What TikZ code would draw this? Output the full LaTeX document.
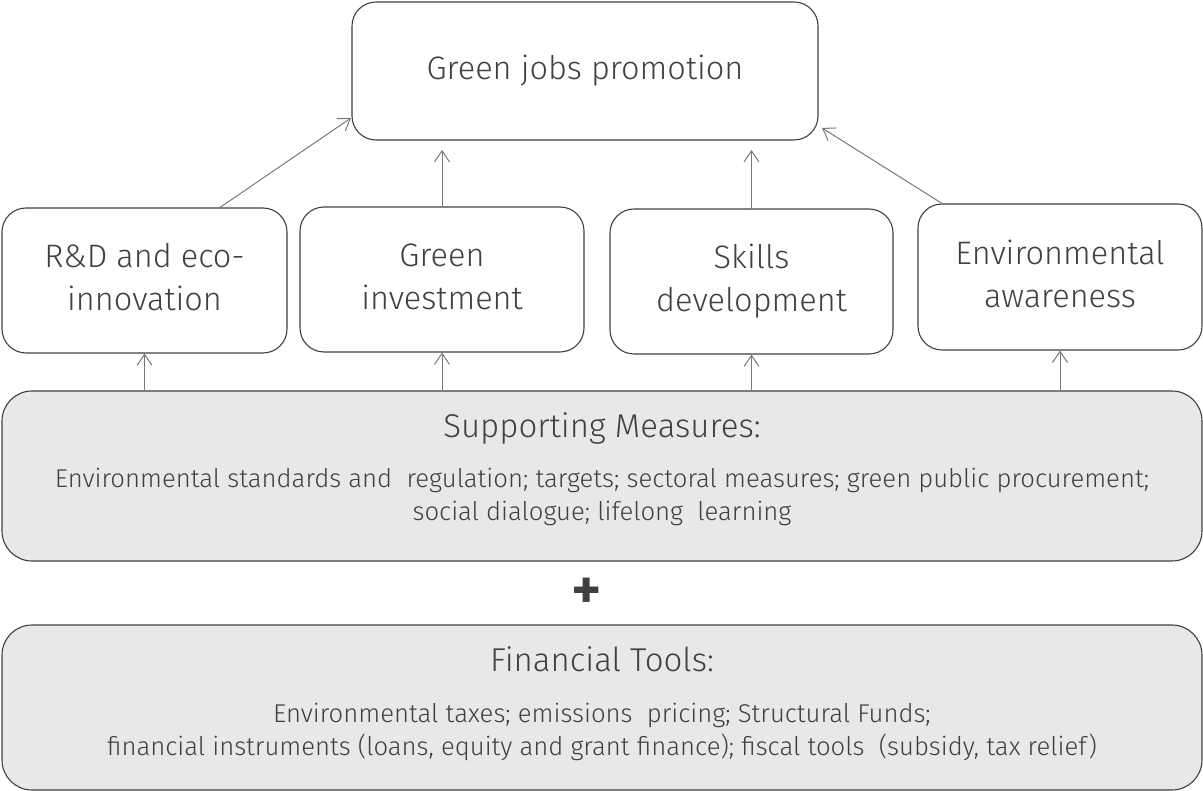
\documentclass[tikz,border=0pt]{standalone}
\usepackage{fontspec}
\setmainfont{Fira Sans}[UprightFont=* Light]
\usetikzlibrary{arrows.meta}
\definecolor{edge}{rgb}{0.25,0.25,0.25}
\definecolor{arrowgray}{rgb}{0.47,0.47,0.47}
\definecolor{panel}{rgb}{0.91,0.91,0.91}
\tikzset{
  box/.style={draw=edge,text=edge,line width=1.1pt,rounded corners=24pt,align=center,
    inner sep=0pt,font=\fontsize{32.5}{43}\selectfont},
  panelbox/.style={draw=edge,fill=panel,line width=1.1pt,rounded corners=30pt,minimum width=1200pt},
  paneltitle/.style={text=edge,inner sep=0pt,anchor=base,font=\fontsize{33}{40}\selectfont},
  paneltext/.style={text=edge,inner sep=0pt,anchor=north,align=center,font=\fontsize{25.7}{33}\selectfont},
  link/.style={draw=arrowgray,line width=1pt,-{Straight Barb[length=11pt,width=15pt]}}
}
\begin{document}
\begin{tikzpicture}[x=1pt,y=-1pt,line cap=round,line join=round]
    \useasboundingbox (0,0) rectangle (1203,791);

    % outcome
    \node[box,minimum width=466pt,minimum height=138pt] (jobs) at (585,71) {\strut Green jobs promotion};

    % channels
    \node[box,minimum width=285pt,minimum height=145pt] (rd) at (144.5,280.5) {\strut R\&D and eco-\\\strut innovation};
    \node[box,minimum width=284pt,minimum height=145pt] (inv) at (442,279.5) {\strut Green\\\strut investment};
    \node[box,minimum width=283pt,minimum height=145pt] (skills) at (751.5,281.5) {\strut Skills\\\strut development};
    \node[box,minimum width=284pt,minimum height=146pt] (aware) at (1060,277) {\strut Environmental\\\strut awareness};

    % measures and tools
    \node[panelbox,minimum height=170pt] (measures) at (602,476) {};
    \node[paneltitle] (measurestitle) at ([yshift=-47.5pt]measures.north) {Supporting Measures:};
    \node[paneltext] (measurestext) at ([yshift=-73.5pt]measures.north) {%
      \strut Environmental standards and \ regulation; targets; sectoral measures; green public procurement;\\
      \strut social dialogue; lifelong \ learning};

    \node[text=edge,inner sep=0pt,font=\fontsize{58}{58}\selectfont\bfseries] (plus) at (587,594) {+};

    \node[panelbox,minimum height=165pt] (tools) at (602,707.5) {};
    \node[paneltitle] (toolstitle) at ([yshift=-47.5pt]tools.north) {Financial Tools:};
    \node[paneltext] (toolstext) at ([yshift=-74.5pt]tools.north) {%
      \strut Environmental taxes; emissions \ pricing; Structural Funds;\\
      \strut financial instruments (loans, equity and grant finance); fiscal tools \ (subsidy, tax relief)};

    % arrows into the outcome
    \draw[link] (rd.north -| 220,0) -- (351,118);
    \draw[link] (inv.north) -- (inv.north |- 0,150);
    \draw[link] (skills.north) -- (skills.north |- 0,150);
    \draw[link] (aware.north -| 942,0) -- (822,128);

    % arrows from the measures
    \foreach \b in {rd,inv,skills,aware}
      \draw[link] (measures.north -| \b.south) -- (\b.south);
\end{tikzpicture}
\end{document}
